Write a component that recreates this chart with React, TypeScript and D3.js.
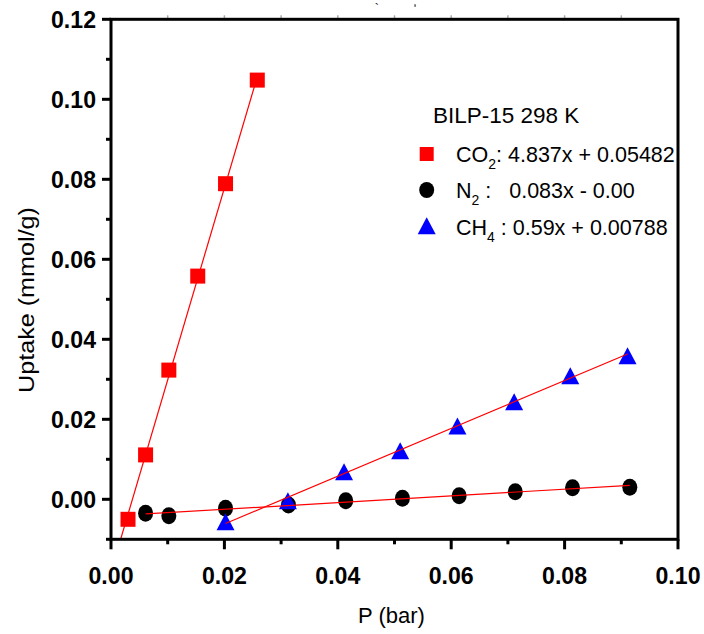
import React from "react";
import * as d3 from "d3";

const CO2_P = [0.003, 0.0061, 0.0102, 0.0153, 0.0202, 0.0258];
const CO2_U = [-0.005, 0.0111, 0.0323, 0.0558, 0.0789, 0.1048];
const N2_P = [0.0061, 0.0102, 0.0202, 0.0313, 0.0414, 0.0514, 0.0614, 0.0713, 0.0814, 0.0915];
const N2_U = [-0.0035, -0.0041, -0.00225, -0.0014, -0.00035, 0.00025, 0.0009, 0.0019, 0.0029, 0.003];
const CH4_P = [0.0202, 0.0312, 0.0411, 0.051, 0.0611, 0.0711, 0.081, 0.0911];
const CH4_U = [-0.0056, -0.00035, 0.0069, 0.01215, 0.0183, 0.0244, 0.0309, 0.0359];

const X_TICKS = [0, 0.02, 0.04, 0.06, 0.08, 0.1];
const Y_TICKS = [0, 0.02, 0.04, 0.06, 0.08, 0.1, 0.12];
const X_MINOR = [0.01, 0.03, 0.05, 0.07, 0.09];
const Y_MINOR = [-0.01, 0.01, 0.03, 0.05, 0.07, 0.09, 0.11];

const LEGEND_TITLE = "BILP-15 298 K";

const W = 704, H = 634;
const L = 111, R = 678, T = 19.3, B = 539.3;
const FONT = "Arial, 'Liberation Sans', Helvetica, sans-serif";

function fit(xs: number[], ys: number[]) {
  const mx = d3.mean(xs)!, my = d3.mean(ys)!;
  let sxy = 0, sxx = 0;
  xs.forEach((x, i) => { sxy += (x - mx) * (ys[i] - my); sxx += (x - mx) * (x - mx); });
  const m = sxy / sxx;
  return { m, b: my - m * mx };
}

export default function App() {
  const x = d3.scaleLinear().domain([0, 0.1]).range([L, R]);
  const y = d3.scaleLinear().domain([-0.01, 0.12]).range([B, T]);
  const line = d3.line<[number, number]>().x(d => x(d[0])).y(d => y(d[1]));

  const co2Fit = fit(CO2_P, CO2_U);
  const n2Fit = fit(N2_P, N2_U);
  const ch4Fit = fit(CH4_P, CH4_U);
  const seg = (f: { m: number; b: number }, x0: number, x1: number): [number, number][] => [
    [x0, f.m * x0 + f.b],
    [x1, f.m * x1 + f.b],
  ];

  const tri = (cx: number, cy: number) =>
    `M${cx},${cy - 8.5}L${cx + 9},${cy + 8.5}L${cx - 9},${cy + 8.5}Z`;

  const fmt = d3.format(".2f");

  return (
    <svg width={W} height={H} style={{ position: "absolute", left: 0, top: 0, background: "#fff" }}>
      <defs>
        <clipPath id="plotclip">
          <rect x={L} y={T} width={R - L} height={B - T} />
        </clipPath>
      </defs>
      <rect x={0} y={0} width={W} height={H} fill="#fff" />

      {/* stray marks at top */}
      <text x={377} y={13} fontSize={13} fill="#222" fontFamily={FONT} textAnchor="middle">`</text>
      <text x={415} y={13} fontSize={13} fill="#222" fontFamily={FONT} textAnchor="middle">ʹ</text>

      {/* faint top ticks */}
      {[...X_MINOR, ...X_TICKS.slice(1, -1)].map((v, i) => (
        <line key={"tt" + i} x1={x(v)} x2={x(v)} y1={T - 4} y2={T} stroke="#aaa" strokeWidth={1.5} />
      ))}

      {/* data markers */}
      <g clipPath="url(#plotclip)">
        {N2_P.map((p, i) => (
          <ellipse key={"n" + i} cx={x(p)} cy={y(N2_U[i])} rx={7.5} ry={8.5} fill="#000" />
        ))}
        {CH4_P.map((p, i) => (
          <path key={"c" + i} d={tri(x(p), y(CH4_U[i]))} fill="#0000ff" />
        ))}
        {CO2_P.map((p, i) => (
          <rect key={"s" + i} x={x(p) - 7.5} y={y(CO2_U[i]) - 7.5} width={15} height={15} fill="#ff0000" />
        ))}
        <path d={line(seg(co2Fit, 0, CO2_P[CO2_P.length - 1]))!} stroke="#ff0000" strokeWidth={1.2} fill="none" />
        <path d={line(seg(n2Fit, N2_P[0], N2_P[N2_P.length - 1]))!} stroke="#ff0000" strokeWidth={1.2} fill="none" />
        <path d={line(seg(ch4Fit, CH4_P[0], CH4_P[CH4_P.length - 1]))!} stroke="#ff0000" strokeWidth={1.2} fill="none" />
      </g>

      {/* frame */}
      <rect x={L} y={T} width={R - L} height={B - T} fill="none" stroke="#000" strokeWidth={3} />

      {/* y ticks */}
      {Y_TICKS.map((v, i) => (
        <g key={"yt" + i}>
          <line x1={L - 9} x2={L} y1={y(v)} y2={y(v)} stroke="#000" strokeWidth={3} />
          <text x={96} y={y(v) + 8.5} textAnchor="end" fontFamily={FONT} fontWeight="bold" fontSize={24} fill="#000"
            textLength={45} lengthAdjust="spacingAndGlyphs">
            {fmt(v)}
          </text>
        </g>
      ))}
      {Y_MINOR.map((v, i) => (
        <line key={"ym" + i} x1={L - 5} x2={L} y1={y(v)} y2={y(v)} stroke="#000" strokeWidth={3} />
      ))}

      {/* x ticks */}
      {X_TICKS.map((v, i) => (
        <g key={"xt" + i}>
          <line x1={x(v)} x2={x(v)} y1={B} y2={B + 10} stroke="#000" strokeWidth={3} />
          <text x={x(v)} y={583.5} textAnchor="middle" fontFamily={FONT} fontWeight="bold" fontSize={24} fill="#000"
            textLength={45} lengthAdjust="spacingAndGlyphs">
            {fmt(v)}
          </text>
        </g>
      ))}
      {X_MINOR.map((v, i) => (
        <line key={"xm" + i} x1={x(v)} x2={x(v)} y1={B} y2={B + 5} stroke="#000" strokeWidth={3} />
      ))}

      {/* axis titles */}
      <text x={(L + R) / 2 - 3} y={623} textAnchor="middle" fontFamily={FONT} fontSize={22} fill="#000">
        P (bar)
      </text>
      <text
        transform="translate(33.5,300) rotate(-90)"
        textAnchor="middle"
        fontFamily={FONT}
        fontSize={22}
        fill="#000"
        textLength={186}
        lengthAdjust="spacingAndGlyphs"
      >
        Uptake (mmol/g)
      </text>

      {/* legend */}
      <g fontFamily={FONT} fill="#000">
        <text x={433} y={122.5} fontSize={22.5}>{LEGEND_TITLE}</text>
        <rect x={426.7 - 7} y={154 - 7} width={14} height={14} fill="#ff0000" />
        <text x={456} y={161.7} fontSize={21.5} style={{ whiteSpace: "pre" }}>
          CO<tspan fontSize={14} dy={7}>2</tspan><tspan dy={-7}>: 4.837x + 0.05482</tspan>
        </text>
        <ellipse cx={426.7} cy={190} rx={7.5} ry={8} fill="#000" />
        <text x={456} y={198.3} fontSize={21.5} style={{ whiteSpace: "pre" }}>
          N<tspan fontSize={14} dy={7}>2</tspan><tspan dy={-7}>{" :   0.083x - 0.00"}</tspan>
        </text>
        <path d={tri(426.7, 225.7)} fill="#0000ff" />
        <text x={456} y={235} fontSize={21.5} style={{ whiteSpace: "pre" }}>
          CH<tspan fontSize={14} dy={7}>4</tspan><tspan dy={-7}>{" : 0.59x + 0.00788"}</tspan>
        </text>
      </g>
    </svg>
  );
}
